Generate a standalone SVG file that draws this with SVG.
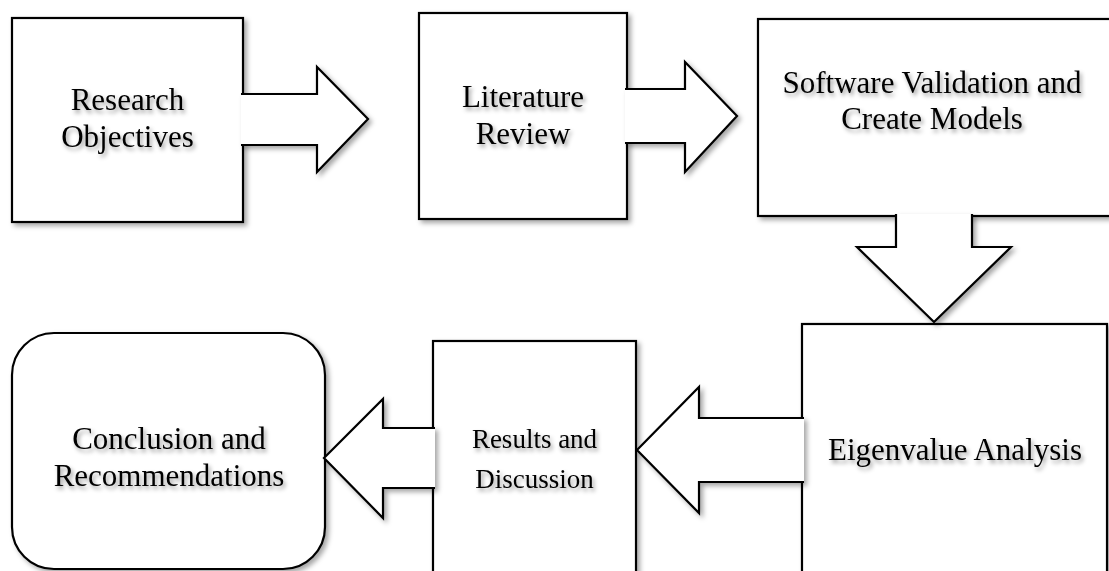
<svg xmlns="http://www.w3.org/2000/svg" width="1109" height="571" viewBox="0 0 1109 571">
  <defs>
    <filter id="sh" x="-10%" y="-10%" width="130%" height="130%">
      <feDropShadow dx="3" dy="3" stdDeviation="2.5" flood-color="#000" flood-opacity="0.35"/>
    </filter>
    <filter id="tsh" x="-10%" y="-30%" width="130%" height="170%">
      <feDropShadow dx="2" dy="3" stdDeviation="2" flood-color="#000" flood-opacity="0.4"/>
    </filter>
  </defs>
  <style>
    .box { fill: #fff; stroke: #000; stroke-width: 2.2; stroke-linejoin: miter; filter: url(#sh); }
    .arr { fill: #fff; stroke: #000; stroke-width: 2.2; stroke-linejoin: miter; filter: url(#sh); }
    .lbl { font-family: "Liberation Serif", "Times New Roman", serif; font-size: 31px; fill: #000; text-anchor: middle; filter: url(#tsh); }
    .sm { font-size: 27px; }
  </style>
  <rect width="1109" height="571" fill="#fff"/>

  <g id="node-research-objectives">
    <rect class="box" x="12" y="18" width="231" height="204"/>
  </g>
  <g id="node-literature-review">
    <rect class="box" x="419" y="13" width="208" height="206"/>
  </g>
  <g id="node-software-validation">
    <rect class="box" x="758" y="19" width="356" height="197"/>
  </g>
  <g id="node-eigenvalue-analysis">
    <rect class="box" x="802" y="324" width="305" height="260"/>
  </g>
  <g id="node-results-discussion">
    <rect class="box" x="433" y="341" width="203" height="243"/>
  </g>
  <g id="node-conclusion">
    <rect class="box" x="12" y="333" width="313" height="236" rx="42" ry="42"/>
  </g>

  <g id="connectors">
    <path class="arr" d="M241,94 H317 V67 L368,119 L317,172 V145 H241"/>
    <path class="arr" d="M625,89 H685 V62 L737,116 L685,172 V143 H625"/>
    <path class="arr" d="M896,214 V247 H857 L934,322 L1011,247 H972 V214"/>
    <path class="arr" d="M804,418 H699 V387 L637,450 L699,513 V482 H804"/>
    <path class="arr" d="M435,428 H383 V399 L324,458 L383,518 V488 H435"/>
  </g>

  <g id="labels">
    <text class="lbl" x="127.5" y="110">Research</text>
    <text class="lbl" x="127.5" y="147">Objectives</text>
    <text class="lbl" x="523" y="107">Literature</text>
    <text class="lbl" x="523" y="144">Review</text>
    <text class="lbl" x="932" y="93">Software Validation and</text>
    <text class="lbl" x="932" y="129">Create Models</text>
    <text class="lbl" x="955" y="460">Eigenvalue Analysis</text>
    <text class="lbl sm" x="534.5" y="448">Results and</text>
    <text class="lbl sm" x="534.5" y="488">Discussion</text>
    <text class="lbl" x="169" y="449">Conclusion and</text>
    <text class="lbl" x="169" y="486">Recommendations</text>
  </g>
</svg>
